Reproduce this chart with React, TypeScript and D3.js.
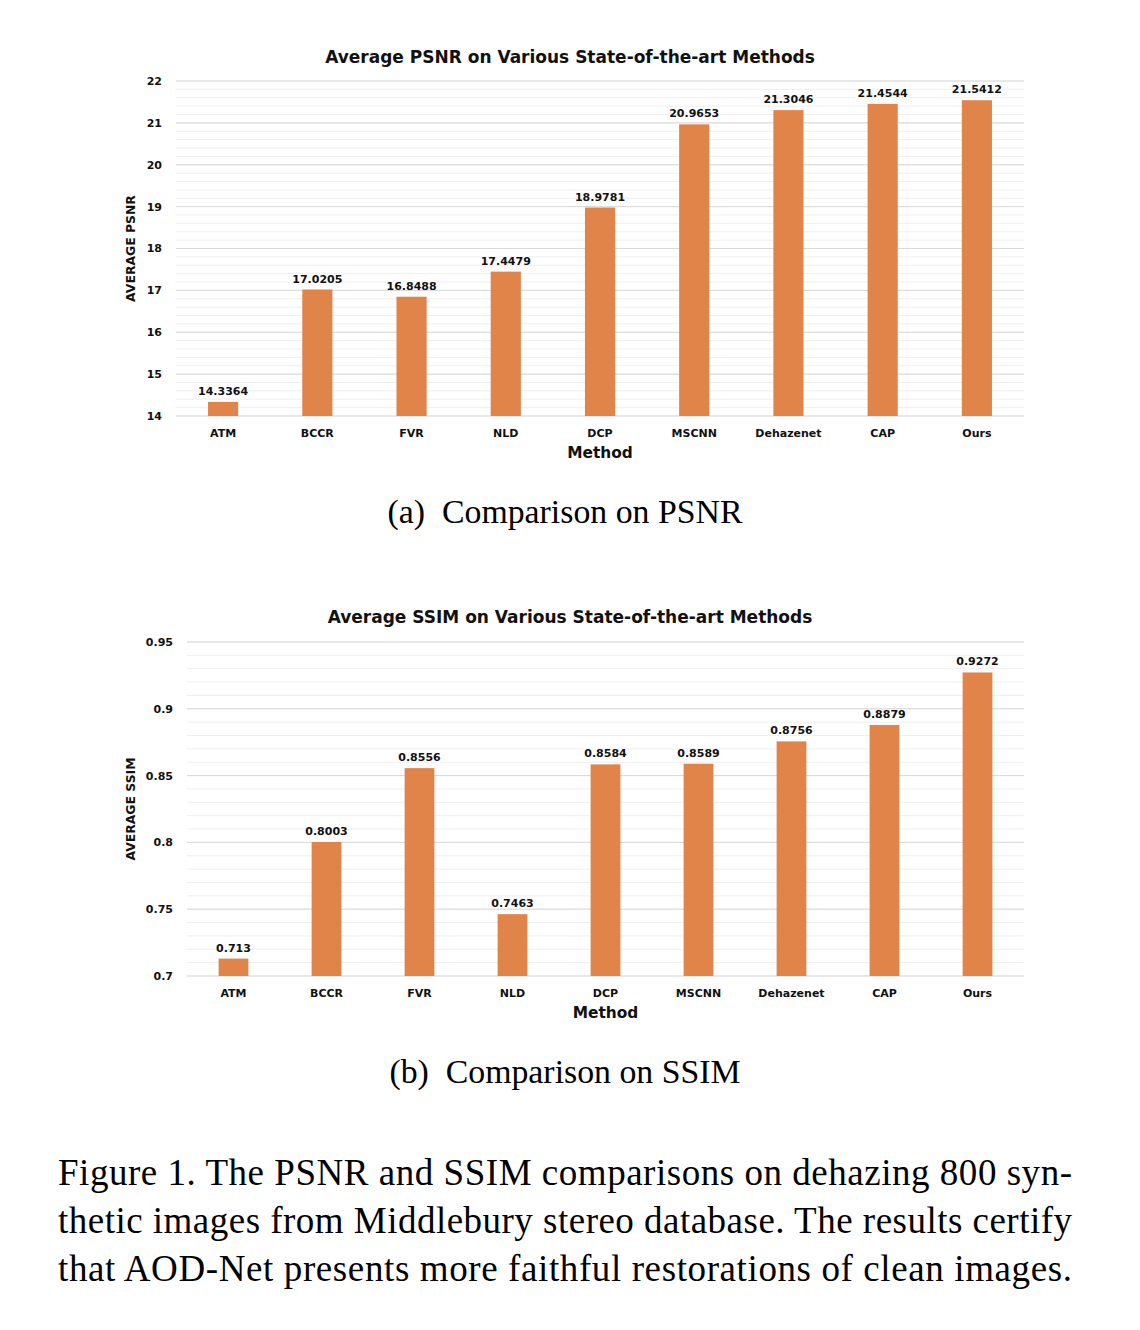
import React from 'react';
import * as d3 from 'd3';

const methods = ['ATM', 'BCCR', 'FVR', 'NLD', 'DCP', 'MSCNN', 'Dehazenet', 'CAP', 'Ours'];
const psnrValues = [14.3364, 17.0205, 16.8488, 17.4479, 18.9781, 20.9653, 21.3046, 21.4544, 21.5412];
const ssimValues = [0.713, 0.8003, 0.8556, 0.7463, 0.8584, 0.8589, 0.8756, 0.8879, 0.9272];
const psnrTicks = [14, 15, 16, 17, 18, 19, 20, 21, 22];
const ssimTicks = [0.7, 0.75, 0.8, 0.85, 0.9, 0.95];

const captionLines = [
  'Figure 1. The PSNR and SSIM comparisons on dehazing 800 syn-',
  'thetic images from Middlebury stereo database. The results certify',
  'that AOD-Net presents more faithful restorations of clean images.',
];

const BAR = '#e0844a';
const FONT = '"DejaVu Sans", Verdana, sans-serif';
const SERIF = '"Liberation Serif", "Times New Roman", serif';

type ChartProps = {
  title: string;
  yTitle: string;
  values: number[];
  ticks: number[];
  minorCount: number;
  x0: number;
  x1: number;
  yBottom: number;
  yTop: number;
  titleY: number;
};

function BarChart(p: ChartProps) {
  const lo = p.ticks[0];
  const hi = p.ticks[p.ticks.length - 1];
  const x = d3.scaleBand<string>().domain(methods).range([p.x0, p.x1]).paddingInner(0.68).paddingOuter(0.34);
  const y = d3.scaleLinear().domain([lo, hi]).range([p.yBottom, p.yTop]);
  const minor = y.ticks(p.minorCount);

  return (
    <g>
      <text x={570} y={p.titleY} textAnchor="middle" fontFamily={FONT} fontWeight="bold" fontSize={17} fill="#111">
        {p.title}
      </text>
      {minor.map((t, i) => (
        <line key={'m' + i} x1={p.x0} x2={p.x1} y1={y(t)} y2={y(t)} stroke="#efefef" strokeWidth={1} />
      ))}
      {p.ticks.map((t, i) => (
        <g key={'t' + i}>
          <line x1={p.x0} x2={p.x1} y1={y(t)} y2={y(t)} stroke="#d9d9d9" strokeWidth={1} />
          <text x={p.x0 - 14} y={y(t)} dy="0.36em" textAnchor="end" fontFamily={FONT} fontWeight="bold" fontSize={11} fill="#111">
            {String(t)}
          </text>
        </g>
      ))}
      {methods.map((m, i) => {
        const v = p.values[i];
        const bx = x(m) as number;
        return (
          <g key={m}>
            <rect x={bx} y={y(v)} width={x.bandwidth()} height={p.yBottom - y(v)} fill={BAR} />
            <text x={bx + x.bandwidth() / 2} y={y(v) - 7} textAnchor="middle" fontFamily={FONT} fontWeight="bold" fontSize={11} fill="#111">
              {String(v)}
            </text>
            <text x={bx + x.bandwidth() / 2} y={p.yBottom + 21} textAnchor="middle" fontFamily={FONT} fontWeight="bold" fontSize={11} fill="#111">
              {m}
            </text>
          </g>
        );
      })}
      <text x={(p.x0 + p.x1) / 2} y={p.yBottom + 42} textAnchor="middle" fontFamily={FONT} fontWeight="bold" fontSize={15.4} fill="#111">
        Method
      </text>
      <text
        transform={`translate(135,${(p.yTop + p.yBottom) / 2}) rotate(-90)`}
        textAnchor="middle"
        fontFamily={FONT}
        fontWeight="bold"
        fontSize={12.4}
        fill="#111"
      >
        {p.yTitle}
      </text>
    </g>
  );
}

export default function App() {
  return (
    <svg width={1140} height={1330} style={{ position: 'absolute', left: 0, top: 0, background: '#fff' }}>
      <BarChart
        title="Average PSNR on Various State-of-the-art Methods"
        yTitle="AVERAGE PSNR"
        values={psnrValues}
        ticks={psnrTicks}
        minorCount={40}
        x0={176}
        x1={1024}
        yBottom={416}
        yTop={81}
        titleY={63}
      />
      <text x={565} y={523} textAnchor="middle" fontFamily={SERIF} fontSize={33.8} fill="#000" xmlSpace="preserve">
        (a)  Comparison on PSNR
      </text>
      <BarChart
        title="Average SSIM on Various State-of-the-art Methods"
        yTitle="AVERAGE SSIM"
        values={ssimValues}
        ticks={ssimTicks}
        minorCount={25}
        x0={187}
        x1={1024}
        yBottom={976}
        yTop={642}
        titleY={623}
      />
      <text x={565} y={1083} textAnchor="middle" fontFamily={SERIF} fontSize={33.8} fill="#000" xmlSpace="preserve">
        (b)  Comparison on SSIM
      </text>
      {captionLines.map((line, i) => (
        <text key={i} x={58} y={1185 + i * 48} fontFamily={SERIF} fontSize={37} fill="#000" textLength={1014} lengthAdjust="spacing">
          {line}
        </text>
      ))}
    </svg>
  );
}
